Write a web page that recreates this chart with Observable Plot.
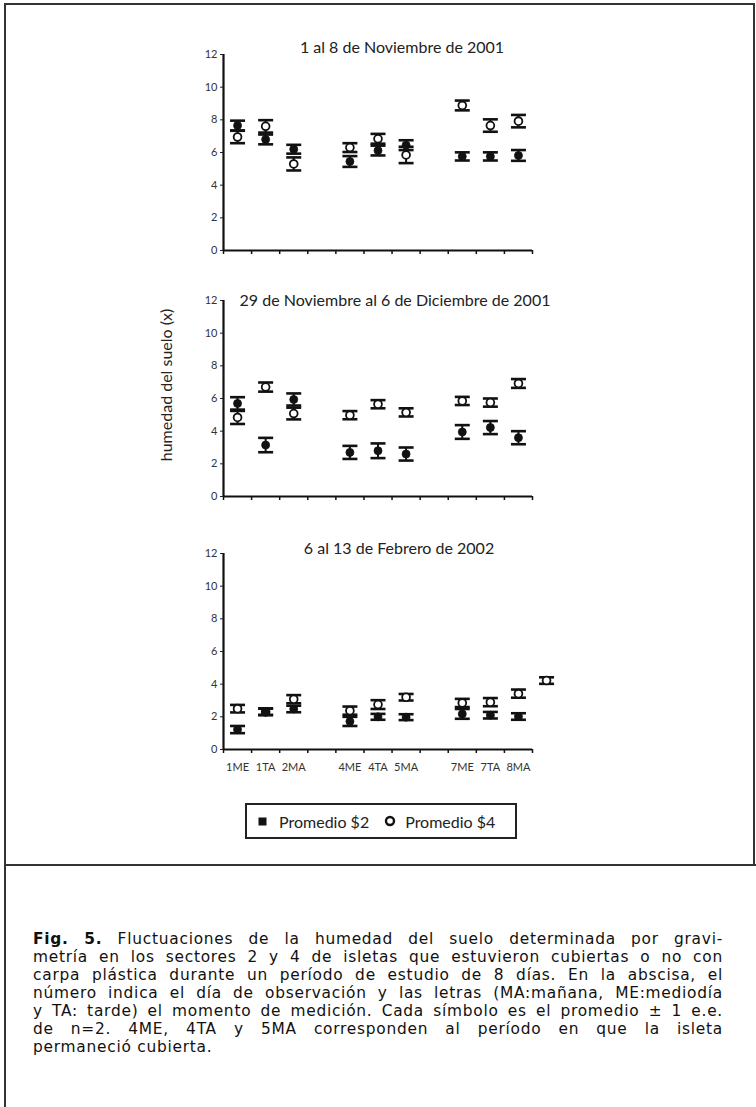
<!DOCTYPE html>
<html>
<head>
<meta charset="utf-8">
<script src="https://cdn.jsdelivr.net/npm/d3@7"></script>
<script src="https://cdn.jsdelivr.net/npm/@observablehq/plot@0.6"></script>
<style>
  html, body { margin: 0; padding: 0; background: #fff; }
  #page { position: relative; width: 756px; height: 1107px; font-family: Lato, "Open Sans", sans-serif; color: #222; overflow: hidden; }
  .line { position: absolute; background: #333; }
  .ptitle { position: absolute; width: 440px; text-align: center; font-size: 16px; line-height: 17px; color: #222; white-space: nowrap; }
  .panel { position: absolute; left: 160px; }
  #ylab { position: absolute; left: 165px; top: 385px; transform: translate(-50%, -50%) rotate(-90deg); font-size: 16px; white-space: nowrap; color: #222; }
  #legend { position: absolute; left: 245px; top: 803px; width: 272px; height: 36px; box-sizing: border-box; border: 2px solid #222; display: flex; align-items: center; justify-content: flex-start; padding-left: 11px; font-size: 16px; }
  #legend svg { vertical-align: middle; }
  #caption { position: absolute; left: 33px; top: 930px; width: 690px; font-family: "DejaVu Sans", sans-serif; font-size: 15.4px; line-height: 18px; letter-spacing: 0.75px; color: #111; }
  #caption div { text-align: justify; text-align-last: justify; white-space: nowrap; height: 18px; }
  #caption div.last { text-align-last: left; }
</style>
</head>
<body>
<div id="page"></div>
<script>
// ---------- data ----------
const categories = ["1ME", "1TA", "2MA", "", "4ME", "4TA", "5MA", "", "7ME", "7TA", "8MA", ""];
const yTicks = [0, 2, 4, 6, 8, 10, 12];
const seriesNames = ["Promedio $2", "Promedio $4"];
const panelTitles = ["1 al 8 de Noviembre de 2001", "29 de Noviembre al 6 de Diciembre de 2001", "6 al 13 de Febrero de 2002"];
const yLabel = "humedad del suelo (x)";

// Panel 1: 1 al 8 de Noviembre de 2001
const nov_s2  = [7.65, 6.80, 6.20, null, 5.45, 6.12, 6.45, null, 5.76, 5.76, 5.82, null];
const nov_se2 = [0.30, 0.30, 0.27, null, 0.33, 0.30, 0.30, null, 0.25, 0.25, 0.33, null];
const nov_s4  = [6.95, 7.60, 5.30, null, 6.30, 6.84, 5.85, null, 8.88, 7.65, 7.92, null];
const nov_se4 = [0.38, 0.38, 0.40, null, 0.27, 0.30, 0.50, null, 0.30, 0.38, 0.38, null];

// Panel 2: 29 de Noviembre al 6 de Diciembre de 2001
const dic_s2  = [5.70, 3.15, 5.94, null, 2.70, 2.80, 2.60, null, 3.95, 4.22, 3.60, null];
const dic_se2 = [0.38, 0.44, 0.37, null, 0.40, 0.45, 0.40, null, 0.42, 0.40, 0.40, null];
const dic_s4  = [4.84, 6.70, 5.08, null, 4.98, 5.65, 5.15, null, 5.85, 5.75, 6.92, null];
const dic_se4 = [0.40, 0.28, 0.36, null, 0.25, 0.25, 0.25, null, 0.25, 0.25, 0.27, null];

// Panel 3: 6 al 13 de Febrero de 2002
const feb_s2  = [1.22, 2.32, 2.48, null, 1.72, 2.00, 1.98, null, 2.18, 2.10, 2.02, null];
const feb_se2 = [0.22, 0.20, 0.20, null, 0.28, 0.18, 0.18, null, 0.30, 0.20, 0.20, null];
const feb_s4  = [2.50, 2.30, 3.08, null, 2.38, 2.75, 3.20, null, 2.85, 2.90, 3.42, 4.22];
const feb_se4 = [0.23, 0.20, 0.25, null, 0.25, 0.27, 0.20, null, 0.25, 0.25, 0.25, 0.20];

const captionLines = [
  ["Fig. 5.", " Fluctuaciones de la humedad del suelo determinada por gravi-"],
  ["", "metría en los sectores 2 y 4 de isletas que estuvieron cubiertas o no con"],
  ["", "carpa plástica durante un período de estudio de 8 días. En la abscisa, el"],
  ["", "número indica el día de observación y las letras (MA:mañana, ME:mediodía"],
  ["", "y TA: tarde) el momento de medición. Cada símbolo es el promedio ± 1 e.e."],
  ["", "de n=2. 4ME, 4TA y 5MA corresponden al período en que la isleta"],
  ["", "permaneció cubierta."]
];

// ---------- build ----------
const page = document.getElementById("page");
function addLine(l, t, w, h) {
  const d = document.createElement("div");
  d.className = "line";
  Object.assign(d.style, {left: l + "px", top: t + "px", width: w + "px", height: h + "px"});
  page.appendChild(d);
}
// frame
addLine(4, 3, 751, 2);
addLine(4, 3, 2, 1104);
addLine(753, 3, 2, 863);
addLine(4, 864, 752, 2);

const panels = [
  {title: panelTitles[0], s2: nov_s2, se2: nov_se2, s4: nov_s4, se4: nov_se4, top: 44, titleY: 38, titleX: 182},
  {title: panelTitles[1], s2: dic_s2, se2: dic_se2, s4: dic_s4, se4: dic_se4, top: 290, titleY: 291, titleX: 175},
  {title: panelTitles[2], s2: feb_s2, se2: feb_se2, s4: feb_s4, se4: feb_se4, top: 543, titleY: 539, titleX: 179}
];

// horizontal cap symbol for error bars
const capSymbol = {
  draw(context, size) {
    const r = Math.sqrt(size / Math.PI);
    context.moveTo(-r, 0);
    context.lineTo(r, 0);
  }
};

const lastNamed = categories.reduce((m, c, i) => (c ? i : m), 0);
const axisEnd = lastNamed + 1;
const namedPos = categories.map((c, i) => (c ? i + 0.5 : null)).filter(v => v !== null);

panels.forEach((p, pi) => {
  const rows = [];
  categories.forEach((c, i) => {
    if (p.s4[i] != null) rows.push({pos: i + 0.5, v: p.s4[i], se: p.se4[i], series: seriesNames[1]});
    if (p.s2[i] != null) rows.push({pos: i + 0.5, v: p.s2[i], se: p.se2[i], series: seriesNames[0]});
  });
  const isBottom = pi === panels.length - 1;
  const marks = [
    Plot.axisY({ticks: yTicks, tickSize: 3, tickPadding: 3, label: null, fontSize: 11, stroke: "#222"}),
    Plot.axisX({ticks: d3.range(0, axisEnd + 1), tickSize: 4, tickFormat: () => "", label: null, strokeWidth: 1.5, stroke: "#111"}),
    Plot.ruleX([0], {y1: 0, y2: 12, stroke: "#111", strokeWidth: 2.2}),
    Plot.ruleY([0], {x1: 0, x2: axisEnd, stroke: "#111", strokeWidth: 2.2}),
    // error bars
    Plot.ruleX(rows, {x: "pos", y1: d => d.v - d.se, y2: d => d.v + d.se, stroke: "#111", strokeWidth: 2}),
    Plot.dot(rows, {x: "pos", y: d => d.v + d.se, symbol: capSymbol, r: 7.5, fill: "none", stroke: "#111", strokeWidth: 2.6}),
    Plot.dot(rows, {x: "pos", y: d => d.v - d.se, symbol: capSymbol, r: 7.5, fill: "none", stroke: "#111", strokeWidth: 2.6}),
    // open circles (sector 4)
    Plot.dot(rows.filter(d => d.series === seriesNames[1]), {x: "pos", y: "v", r: 3.9, fill: "white", stroke: "#111", strokeWidth: 1.8}),
    // filled circles (sector 2)
    Plot.dot(rows.filter(d => d.series === seriesNames[0]), {x: "pos", y: "v", r: 4, fill: "#111", stroke: "#111", strokeWidth: 0.8})
  ];
  if (isBottom) {
    marks.push(Plot.axisX({ticks: namedPos, tickSize: 0, tickPadding: 14, tickFormat: v => categories[Math.floor(v)], label: null, fontSize: 11}));
  }
  const chart = Plot.plot({
    width: 412,
    height: 236,
    marginTop: 10,
    marginBottom: 30,
    marginLeft: 63,
    marginRight: 40,
    x: {type: "linear", domain: [0, axisEnd]},
    y: {domain: [0, 12]},
    style: {fontFamily: "Lato, 'Open Sans', sans-serif", fontSize: "11px", color: "#333", background: "transparent", overflow: "visible"},
    marks
  });
  chart.classList.add("panel");
  chart.style.top = p.top + "px";
  chart.style.left = "160px";
  chart.style.position = "absolute";
  page.appendChild(chart);

  const t = document.createElement("div");
  t.className = "ptitle";
  t.textContent = p.title;
  t.style.top = p.titleY + "px";
  t.style.left = p.titleX + "px";
  page.appendChild(t);
});

// y label
const yl = document.createElement("div");
yl.id = "ylab";
yl.textContent = yLabel;
page.appendChild(yl);

// legend
const lg = document.createElement("div");
lg.id = "legend";
lg.innerHTML =
  `<svg width="9" height="9"><rect x="0.5" y="0.5" width="8" height="8" fill="#111"/></svg>` +
  `<span style="margin-left:12px">${seriesNames[0]}</span>` +
  `<svg width="12" height="12" style="margin-left:15px"><circle cx="6" cy="6" r="4" fill="white" stroke="#111" stroke-width="2.4"/></svg>` +
  `<span style="margin-left:9px">${seriesNames[1]}</span>`;
page.appendChild(lg);

// caption
const cap = document.createElement("div");
cap.id = "caption";
captionLines.forEach((ln, i) => {
  const d = document.createElement("div");
  if (i === captionLines.length - 1) d.className = "last";
  if (ln[0]) {
    const b = document.createElement("b");
    b.textContent = ln[0];
    b.style.fontWeight = "bold";
    d.appendChild(b);
  }
  d.appendChild(document.createTextNode(ln[1]));
  cap.appendChild(d);
});
page.appendChild(cap);
</script>
</body>
</html>
